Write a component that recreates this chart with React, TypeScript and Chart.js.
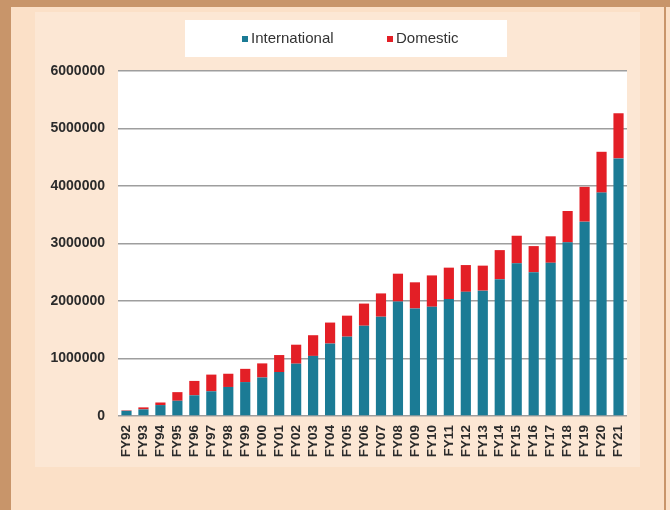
import React, { useEffect, useRef } from "react";
import { Chart, registerables } from "chart.js";

Chart.register(...registerables);

const categories = [
  "FY92", "FY93", "FY94", "FY95", "FY96", "FY97", "FY98", "FY99", "FY00", "FY01",
  "FY02", "FY03", "FY04", "FY05", "FY06", "FY07", "FY08", "FY09", "FY10", "FY11",
  "FY12", "FY13", "FY14", "FY15", "FY16", "FY17", "FY18", "FY19", "FY20", "FY21",
];

const international = [
  90000, 115000, 190000, 265000, 360000, 430000, 505000, 590000, 670000, 765000,
  910000, 1045000, 1260000, 1380000, 1570000, 1727000, 1990000, 1870000, 1900000, 2035000,
  2160000, 2180000, 2380000, 2655000, 2500000, 2665000, 3020000, 3380000, 3885000, 4480000,
];

const domestic = [
  8000, 35000, 45000, 150000, 250000, 290000, 230000, 230000, 245000, 295000,
  330000, 360000, 365000, 365000, 385000, 405000, 485000, 455000, 545000, 545000,
  465000, 435000, 505000, 480000, 455000, 460000, 545000, 605000, 710000, 785000,
];

const yTicks = [0, 1000000, 2000000, 3000000, 4000000, 5000000, 6000000];

const seriesNames = ["International", "Domestic"];
const seriesColors = ["#1b7b95", "#e31f26"];

const FONT = "'Liberation Sans', Arial, sans-serif";

export default function App() {
  const ref = useRef<HTMLCanvasElement>(null);

  useEffect(() => {
    const canvas = ref.current;
    if (!canvas) return;

    const decor = {
      id: "decor",
      beforeDraw(chart: any) {
        const { ctx, width, height, chartArea } = chart;
        ctx.save();
        // page background
        ctx.fillStyle = "#fbe0c7";
        ctx.fillRect(0, 0, width, height);
        // slightly lighter chart region
        ctx.fillStyle = "#fce7d4";
        ctx.fillRect(35, 12, 605, 455);
        // tan frame
        ctx.fillStyle = "#c8956a";
        ctx.fillRect(0, 0, width, 7);
        ctx.fillRect(0, 0, 11, height);
        ctx.fillRect(664, 7, 2, height - 7);
        // plot area
        ctx.fillStyle = "#ffffff";
        ctx.fillRect(chartArea.left, chartArea.top, chartArea.right - chartArea.left, chartArea.bottom - chartArea.top);
        // legend box
        ctx.fillRect(185, 20, 322, 37);
        ctx.restore();
      },
      afterDraw(chart: any) {
        const { ctx } = chart;
        ctx.save();
        ctx.font = `15px ${FONT}`;
        ctx.textBaseline = "middle";
        ctx.textAlign = "left";
        const positions = [242, 387];
        seriesNames.forEach((name, i) => {
          const x = positions[i];
          ctx.fillStyle = seriesColors[i];
          ctx.fillRect(x, 36, 6, 6);
          ctx.fillStyle = "#333333";
          ctx.fillText(name, x + 9, 39);
        });
        ctx.restore();
      },
    };

    const chart = new Chart(canvas, {
      type: "bar",
      data: {
        labels: categories,
        datasets: [
          {
            label: seriesNames[0],
            data: international,
            backgroundColor: seriesColors[0],
            barPercentage: 0.6,
            categoryPercentage: 1,
          },
          {
            label: seriesNames[1],
            data: domestic,
            backgroundColor: seriesColors[1],
            barPercentage: 0.6,
            categoryPercentage: 1,
          },
        ],
      },
      options: {
        responsive: false,
        animation: false,
        devicePixelRatio: 1,
        layout: { padding: { top: 71, left: 0, right: 43, bottom: 0 } },
        plugins: {
          legend: { display: false },
          tooltip: { enabled: false },
        },
        scales: {
          x: {
            stacked: true,
            grid: { display: false, drawTicks: false },
            border: { display: false },
            ticks: {
              minRotation: 90,
              maxRotation: 90,
              autoSkip: false,
              padding: 9,
              color: "#2b2b2b",
              font: { family: FONT, size: 13.5, weight: "bold" },
            },
            afterFit: (scale: any) => {
              scale.height = 94;
            },
          },
          y: {
            stacked: true,
            min: 0,
            max: 6000000,
            afterBuildTicks: (scale: any) => {
              scale.ticks = yTicks.map((v) => ({ value: v }));
            },
            grid: { color: "#9e9e9e", lineWidth: 1.5, drawTicks: false },
            border: { display: false },
            ticks: {
              padding: 13,
              color: "#2b2b2b",
              font: { family: FONT, size: 14, weight: "bold" },
              callback: (v: any) => String(v),
            },
            afterFit: (scale: any) => {
              scale.width = 118;
            },
          },
        },
      },
      plugins: [decor],
    });

    return () => chart.destroy();
  }, []);

  return (
    <div style={{ position: "fixed", left: 0, top: 0, width: 670, height: 510 }}>
      <canvas ref={ref} width={670} height={510} style={{ display: "block", width: 670, height: 510 }} />
    </div>
  );
}
